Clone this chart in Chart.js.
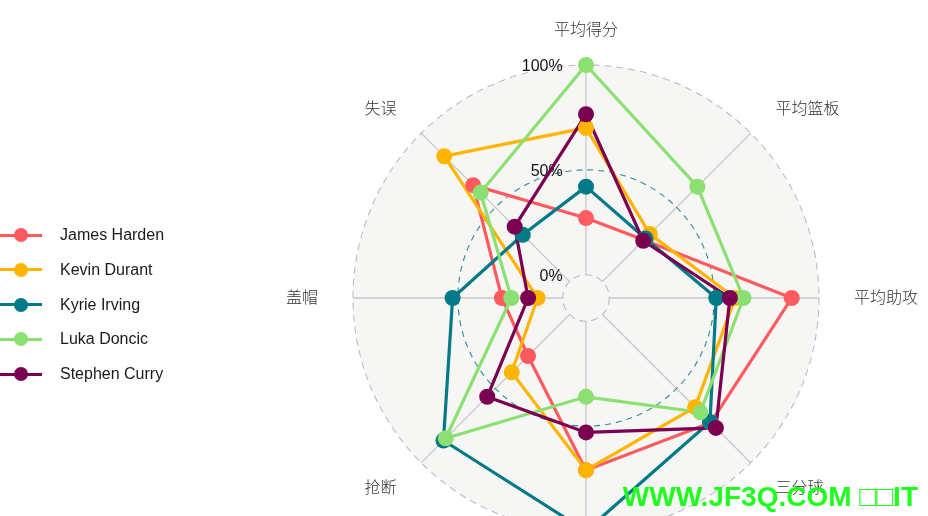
<!DOCTYPE html>
<html>
<head>
<meta charset="utf-8">
<script src="https://cdn.jsdelivr.net/npm/chart.js@4.4.1/dist/chart.umd.min.js"></script>
<style>
  html, body { margin:0; padding:0; background:#fff; width:928px; height:516px; overflow:hidden; }
  #wrap { position:relative; width:928px; height:516px; overflow:hidden; }
  #chart { position:absolute; left:0; top:0; }
  #legend { position:absolute; left:0; top:0; width:220px; height:516px;
            font-family:"Liberation Sans", Arial, sans-serif; font-size:16px; color:#1a1a1a; }
  .item { position:absolute; left:0; width:220px; height:20px; }
  .item .ln { position:absolute; left:0; top:8.5px; width:42px; height:3px; }
  .item .dot { position:absolute; left:14px; top:3px; width:14px; height:14px; border-radius:50%; }
  .item .tx { position:absolute; left:60px; top:0; line-height:20px; white-space:nowrap; }
  #wm { position:absolute; right:10px; top:483px; font-family:"Liberation Sans", Arial, sans-serif;
        font-weight:bold; font-size:28px; line-height:28px; color:rgb(30,255,30); white-space:nowrap; }
</style>
</head>
<body>
<div id="wrap">
  <canvas id="chart" width="928" height="531"></canvas>
  <div id="legend"></div>
  <div id="wm">WWW.JF3Q.COM □□IT</div>
</div>
<script>
// ---- data ----
const categories = ["平均得分", "平均篮板", "平均助攻", "三分球", "命中率", "抢断", "盖帽", "失误"];
const seriesNames = ["James Harden", "Kevin Durant", "Kyrie Irving", "Luka Doncic", "Stephen Curry"];
const harden = [0.27, 0.28, 0.87, 0.73, 0.71, 0.28, 0.29, 0.65];
const durant = [0.70, 0.32, 0.60, 0.625, 0.71, 0.39, 0.12, 0.845];
const irving = [0.42, 0.29, 0.51, 0.725, 1.00, 0.85, 0.525, 0.315];
const doncic = [1.00, 0.64, 0.64, 0.66, 0.36, 0.835, 0.245, 0.60];
const curry  = [0.765, 0.275, 0.575, 0.765, 0.53, 0.555, 0.165, 0.37];
const seriesValues = [harden, durant, irving, doncic, curry];
const gridValues = [0, 0.5, 1];
const gridLabels = ["0%", "50%", "100%"];
const colors = ["#FF5A5F", "#FFB400", "#007A87", "#8CE071", "#7B0051"];

// ---- legend (HTML) ----
const legend = document.getElementById('legend');
seriesNames.forEach((name, i) => {
  const it = document.createElement('div');
  it.className = 'item';
  it.style.top = (225 + i * 34.8) + 'px';
  it.innerHTML = '<span class="ln"></span><span class="dot"></span><span class="tx"></span>';
  it.querySelector('.ln').style.background = colors[i];
  it.querySelector('.dot').style.background = colors[i];
  it.querySelector('.tx').textContent = name;
  legend.appendChild(it);
});

// ---- decoration plugin: background, axis lines, grid rings, labels ----
const radarDecor = {
  id: 'radarDecor',
  beforeDatasetsDraw(chart) {
    const s = chart.scales.r;
    const ctx = chart.ctx;
    const cx = s.xCenter, cy = s.yCenter;
    const n = categories.length;
    const rOut = s.getDistanceFromCenterForValue(1);
    ctx.save();
    ctx.beginPath();
    ctx.arc(cx, cy, rOut, 0, Math.PI * 2);
    ctx.fillStyle = 'rgba(215,214,209,0.22)';
    ctx.fill();
    ctx.strokeStyle = '#c8c8c8';
    ctx.lineWidth = 1.3;
    for (let i = 0; i < n; i++) {
      const a = s.getPointPositionForValue(i, 0);
      const b = s.getPointPositionForValue(i, 1);
      ctx.beginPath();
      ctx.moveTo(a.x, a.y);
      ctx.lineTo(b.x, b.y);
      ctx.stroke();
    }
    gridValues.forEach((v) => {
      const r = s.getDistanceFromCenterForValue(v);
      ctx.beginPath();
      ctx.setLineDash(v === 0.5 ? [6, 5] : [7, 5]);
      ctx.strokeStyle = v === 0.5 ? '#2f8b96' : '#bdbdbd';
      ctx.lineWidth = 1.1;
      ctx.arc(cx, cy, r, 0, Math.PI * 2);
      ctx.stroke();
    });
    ctx.setLineDash([]);
    const off = s.getDistanceFromCenterForValue(0);
    ctx.font = '16px "Liberation Sans", Arial, sans-serif';
    ctx.fillStyle = '#111';
    ctx.textAlign = 'right';
    ctx.textBaseline = 'middle';
    gridValues.forEach((v, k) => {
      const p = s.getPointPositionForValue(0, v);
      ctx.fillText(gridLabels[k], cx - off, p.y + 2);
    });
    ctx.font = '300 16px "Noto Sans CJK SC", sans-serif';
    ctx.fillStyle = '#333';
    for (let i = 0; i < n; i++) {
      const p = s.getPointPosition(i, rOut * 1.15);
      ctx.textAlign = Math.abs(p.x - cx) < 1 ? 'center' : (p.x > cx ? 'left' : 'right');
      ctx.fillText(categories[i], p.x, p.y - 1);
    }
    ctx.restore();
  }
};

// ---- datasets: lines first (under), then points (over) ----
const lineSets = seriesValues.map((vals, i) => ({
  label: seriesNames[i],
  data: vals,
  borderColor: colors[i],
  backgroundColor: colors[i],
  borderWidth: 3.2,
  fill: false,
  pointRadius: 0,
  pointHoverRadius: 0,
  clip: false,
  order: 10 + (seriesValues.length - 1 - i)
}));
const pointSets = seriesValues.map((vals, i) => ({
  label: seriesNames[i] + ' pts',
  data: vals,
  showLine: false,
  borderColor: colors[i],
  backgroundColor: colors[i],
  fill: false,
  pointRadius: 8,
  pointHoverRadius: 8,
  pointBorderWidth: 0,
  pointBackgroundColor: colors[i],
  clip: false,
  order: seriesValues.length - 1 - i
}));

new Chart(document.getElementById('chart'), {
  type: 'radar',
  data: { labels: categories, datasets: [...lineSets, ...pointSets] },
  options: {
    responsive: false,
    animation: false,
    layout: { padding: { left: 353, right: 109, top: 65, bottom: 0 } },
    plugins: { legend: { display: false }, tooltip: { enabled: false } },
    elements: { line: { tension: 0 } },
    scales: {
      r: {
        min: -1 / 9,
        max: 1,
        grid: { display: false },
        angleLines: { display: false },
        pointLabels: { display: false },
        ticks: { display: false }
      }
    }
  },
  plugins: [radarDecor]
});
</script>
</body>
</html>
